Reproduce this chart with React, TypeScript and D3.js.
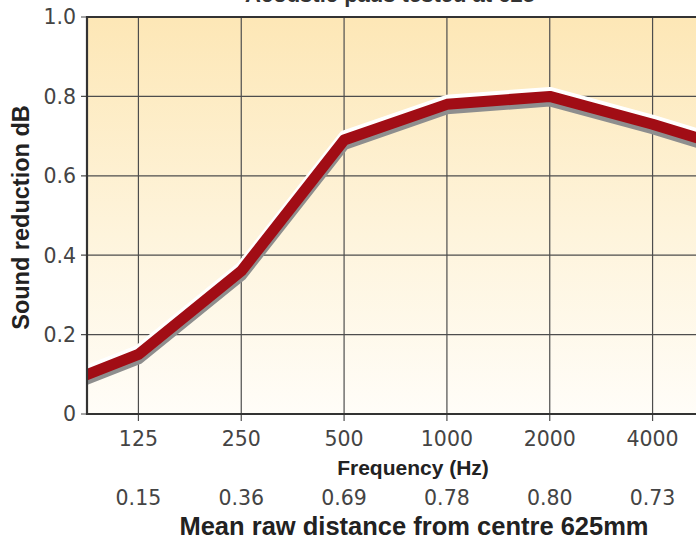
import React from "react";
import * as d3 from "d3";

// Octave-band centre frequencies (Hz); the outer bands run past the plot frame
const frequencies = [63, 125, 250, 500, 1000, 2000, 4000, 8000];
const reduction = [0.05, 0.15, 0.36, 0.69, 0.78, 0.8, 0.73, 0.65];

const labelledFrequencies = [125, 250, 500, 1000, 2000, 4000];
const meanValues = ["0.15", "0.36", "0.69", "0.78", "0.80", "0.73"];
const yTicks = [0, 0.2, 0.4, 0.6, 0.8, 1.0];

const W = 696;
const H = 541;
const plot = { left: 87, right: 704, top: 17, bottom: 414 };

const tickFont = "'DejaVu Sans', sans-serif";
const boldFont = "'Liberation Sans', Arial, sans-serif";

export default function App() {
  const x = d3
    .scaleLog()
    .base(2)
    .domain([125 / Math.SQRT2, 4000 * Math.SQRT2])
    .range([plot.left, plot.right]);
  const y = d3.scaleLinear().domain([0, 1]).range([plot.bottom, plot.top]);

  const line = d3
    .line<number>()
    .x((_, i) => x(frequencies[i]))
    .y((d) => y(d));
  const path = line(reduction) || "";

  const yFmt = (v: number) => (v === 0 ? "0" : d3.format(".1f")(v));

  return (
    <svg
      width={W}
      height={H}
      style={{ position: "absolute", left: 0, top: 0, background: "#fff" }}
    >
      <defs>
        <linearGradient id="bg" x1="0" y1="0" x2="0" y2="1">
          <stop offset="0" stopColor="#fde7b6" />
          <stop offset="0.55" stopColor="#fef4dc" />
          <stop offset="1" stopColor="#fffdf8" />
        </linearGradient>
        <clipPath id="plotClip">
          <rect
            x={plot.left}
            y={plot.top}
            width={plot.right - plot.left}
            height={plot.bottom - plot.top}
          />
        </clipPath>
      </defs>

      {/* chart title, running off the top edge */}
      <text
        x={390}
        y={1.5}
        textAnchor="middle"
        fontFamily={boldFont}
        fontWeight="bold"
        fontSize={22}
        fill="#333"
      >
        Acoustic pads tested at 625
      </text>

      {/* plot background */}
      <rect
        x={plot.left}
        y={plot.top}
        width={plot.right - plot.left}
        height={plot.bottom - plot.top}
        fill="url(#bg)"
      />

      {/* horizontal grid */}
      {yTicks.map((t) => (
        <line
          key={"h" + t}
          x1={plot.left - 6}
          x2={plot.right}
          y1={y(t)}
          y2={y(t)}
          stroke="#4d4d4d"
          strokeWidth={1.2}
        />
      ))}

      {/* vertical grid */}
      {labelledFrequencies.map((f) => (
        <line
          key={"v" + f}
          x1={x(f)}
          x2={x(f)}
          y1={plot.top}
          y2={plot.bottom + 7}
          stroke="#4d4d4d"
          strokeWidth={1.2}
        />
      ))}

      {/* the curve: shadow, highlight, then the red stroke */}
      <g clipPath="url(#plotClip)">
        <path
          d={path}
          transform="translate(0,4.5)"
          fill="none"
          stroke="#8e8e8e"
          strokeWidth={11}
          strokeLinejoin="round"
        />
        <path
          d={path}
          transform="translate(0,-4)"
          fill="none"
          stroke="#ffffff"
          strokeWidth={11}
          strokeLinejoin="round"
        />
        <path
          d={path}
          fill="none"
          stroke="#a10d15"
          strokeWidth={11}
          strokeLinejoin="round"
        />
      </g>

      {/* frame */}
      <line
        x1={plot.left}
        x2={plot.right}
        y1={plot.top}
        y2={plot.top}
        stroke="#333"
        strokeWidth={2}
      />
      <line
        x1={plot.left}
        x2={plot.left}
        y1={plot.top - 1}
        y2={plot.bottom + 1}
        stroke="#333"
        strokeWidth={2.2}
      />
      <line
        x1={plot.left - 1}
        x2={plot.right}
        y1={plot.bottom}
        y2={plot.bottom}
        stroke="#333"
        strokeWidth={2.2}
      />

      {/* y tick labels */}
      {yTicks.map((t) => (
        <text
          key={"yl" + t}
          x={76}
          y={y(t)}
          dy="0.36em"
          textAnchor="end"
          fontFamily={tickFont}
          fontSize={20.5}
          fill="#444"
        >
          {yFmt(t)}
        </text>
      ))}

      {/* frequency tick labels */}
      {labelledFrequencies.map((f) => (
        <text
          key={"xl" + f}
          x={x(f)}
          y={446}
          textAnchor="middle"
          fontFamily={tickFont}
          fontSize={20.5}
          fill="#444"
        >
          {f}
        </text>
      ))}

      <text
        x={413}
        y={475}
        textAnchor="middle"
        fontFamily={boldFont}
        fontWeight="bold"
        fontSize={21}
        fill="#222"
      >
        Frequency (Hz)
      </text>

      {/* mean values per band */}
      {labelledFrequencies.map((f, i) => (
        <text
          key={"mv" + f}
          x={x(f)}
          y={505}
          textAnchor="middle"
          fontFamily={tickFont}
          fontSize={20.5}
          fill="#444"
        >
          {meanValues[i]}
        </text>
      ))}

      <text
        x={414}
        y={535}
        textAnchor="middle"
        fontFamily={boldFont}
        fontWeight="bold"
        fontSize={25.5}
        fill="#222"
      >
        Mean raw distance from centre 625mm
      </text>

      <text
        transform={`translate(29, ${(plot.top + plot.bottom) / 2 + 2}) rotate(-90)`}
        textAnchor="middle"
        fontFamily={boldFont}
        fontWeight="bold"
        fontSize={23.5}
        fill="#222"
      >
        Sound reduction dB
      </text>
    </svg>
  );
}
